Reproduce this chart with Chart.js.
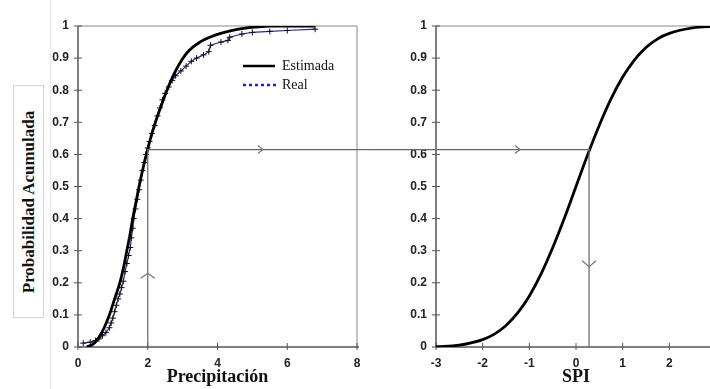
<!DOCTYPE html>
<html>
<head>
<meta charset="utf-8">
<script src="https://cdn.jsdelivr.net/npm/chart.js@4/dist/chart.umd.min.js"></script>
<style>
  html, body { margin: 0; padding: 0; background: #fff; overflow: hidden; }
  #wrap { position: relative; width: 710px; height: 389px; overflow: hidden; }
  #left { position: absolute; left: 0; top: 0; }
  #right { position: absolute; left: 370px; top: 0; }
  #sep { position: absolute; left: 50px; top: 0; width: 1px; height: 389px; background: #e6e6e6; }
  #ybox { position: absolute; left: 13px; top: 85px; width: 31px; height: 233px; border: 1px solid #d4d4d4; box-sizing: border-box; background: #fff; }
  #ybox span { position: absolute; left: 50%; top: 50%; transform: translate(-50%, -50%) rotate(-90deg); white-space: nowrap; font: bold 17px "Liberation Serif", serif; color: #111; }
</style>
</head>
<body>
<div id="wrap">
  <div id="sep"></div>
  <canvas id="left" width="370" height="389"></canvas>
  <canvas id="right" width="360" height="389"></canvas>
  <div id="ybox"><span>Probabilidad Acumulada</span></div>
</div>
<script>
// Estimated (gamma-like) CDF of precipitation
const estPrecip = [0.25, 0.45, 0.6, 0.75, 0.9, 1.05, 1.2, 1.31, 1.4, 1.49, 1.57, 1.66, 1.75, 1.85, 1.96, 2.08, 2.22, 2.38, 2.55, 2.75, 2.98, 3.2, 3.5, 3.85, 4.2, 4.6, 4.9, 5.5, 6.8];
const estProb = [0, 0.01, 0.03, 0.06, 0.1, 0.15, 0.2, 0.25, 0.3, 0.35, 0.4, 0.45, 0.5, 0.55, 0.6, 0.65, 0.7, 0.75, 0.8, 0.85, 0.895, 0.925, 0.95, 0.968, 0.98, 0.99, 0.995, 1, 1];

// Empirical ("Real") CDF
const realPrecip = [0.15, 0.35, 0.5, 0.6, 0.7, 0.8, 0.9, 0.95, 1.0, 1.05, 1.1, 1.15, 1.2, 1.25, 1.3, 1.35, 1.4, 1.45, 1.5, 1.53, 1.57, 1.6, 1.65, 1.7, 1.75, 1.8, 1.85, 1.9, 1.95, 2.0, 2.05, 2.12, 2.2, 2.28, 2.35, 2.42, 2.5, 2.6, 2.7, 2.8, 2.95, 3.1, 3.25, 3.4, 3.6, 3.75, 3.8, 4.1, 4.3, 4.35, 4.7, 5.0, 5.5, 6.0, 6.8];
const realProb = [0.012, 0.015, 0.02, 0.025, 0.035, 0.045, 0.06, 0.075, 0.09, 0.11, 0.13, 0.15, 0.165, 0.185, 0.205, 0.235, 0.26, 0.285, 0.31, 0.34, 0.37, 0.4, 0.43, 0.46, 0.49, 0.52, 0.55, 0.575, 0.6, 0.62, 0.64, 0.665, 0.69, 0.72, 0.745, 0.77, 0.79, 0.81, 0.83, 0.845, 0.86, 0.875, 0.89, 0.9, 0.91, 0.92, 0.94, 0.95, 0.955, 0.965, 0.975, 0.98, 0.983, 0.986, 0.99];

// Standard normal CDF
const spiVals = [-3, -2.5, -2, -1.75, -1.5, -1.25, -1, -0.75, -0.5, -0.25, 0, 0.25, 0.5, 0.75, 1, 1.25, 1.5, 1.75, 2, 2.5, 3];
const spiProb = [0.001, 0.006, 0.023, 0.04, 0.067, 0.106, 0.159, 0.227, 0.309, 0.401, 0.5, 0.599, 0.691, 0.773, 0.841, 0.894, 0.933, 0.96, 0.977, 0.994, 0.999];

// axes
const probTicks = [0, 0.1, 0.2, 0.3, 0.4, 0.5, 0.6, 0.7, 0.8, 0.9, 1];
const probLabels = ['0', '0.1', '0.2', '0.3', '0.4', '0.5', '0.6', '0.7', '0.8', '0.9', '1'];
const precipTicks = [0, 2, 4, 6, 8];
const precipLabels = ['0', '2', '4', '6', '8'];
const spiTicks = [-3, -2, -1, 0, 1, 2, 3];
const spiLabels = ['-3', '-2', '-1', '0', '1', '2', '3'];

// the worked example: precip 2 -> prob 0.615 -> SPI 0.28
const crossPrecip = 2;
const crossProb = 0.615;
const crossSpi = 0.28;
const arrowLeft = { x: 5.3, up: 0.23 };
const arrowRight = { x: -1.2, down: 0.25 };

const toPts = (xs, ys) => xs.map((x, i) => ({ x: x, y: ys[i] }));

const tickFont = { family: '"Liberation Sans", Arial, sans-serif', size: 12, weight: 'bold' };
const titleFont = { family: '"Liberation Serif", "Times New Roman", serif', size: 18, weight: 'bold' };
const guideColor = '#666';

function chevron(ctx, x, y, dir) {
  ctx.save();
  ctx.strokeStyle = '#777';
  ctx.lineWidth = 1.2;
  ctx.beginPath();
  if (dir === 'right') { ctx.moveTo(x - 5, y - 4); ctx.lineTo(x, y); ctx.lineTo(x - 5, y + 4); }
  if (dir === 'up') { ctx.moveTo(x - 7, y + 5); ctx.lineTo(x, y); ctx.lineTo(x + 7, y + 5); }
  if (dir === 'down') { ctx.moveTo(x - 7, y - 6); ctx.lineTo(x, y); ctx.lineTo(x + 7, y - 6); }
  ctx.stroke();
  ctx.restore();
}

function framePlugin(side) {
  return {
    id: 'frame' + side,
    beforeDatasetsDraw(chart) {
      const { ctx, chartArea: a, scales } = chart;
      ctx.save();
      ctx.strokeStyle = '#888';
      ctx.lineWidth = 1;
      ctx.beginPath();
      ctx.moveTo(a.left, a.top); ctx.lineTo(a.right, a.top); ctx.lineTo(a.right, a.bottom);
      ctx.stroke();
      ctx.strokeStyle = '#555';
      ctx.lineWidth = 1.5;
      ctx.beginPath();
      ctx.moveTo(a.left, a.top); ctx.lineTo(a.left, a.bottom); ctx.lineTo(a.right + 2, a.bottom);
      ctx.stroke();
      // tick marks crossing the axes
      ctx.lineWidth = 1;
      ctx.beginPath();
      scales.y.ticks.forEach(t => {
        const py = scales.y.getPixelForValue(t.value);
        ctx.moveTo(a.left - 4, py); ctx.lineTo(a.left + 4, py);
      });
      scales.x.ticks.forEach(t => {
        const px = scales.x.getPixelForValue(t.value);
        ctx.moveTo(px, a.bottom - 4); ctx.lineTo(px, a.bottom + 3);
      });
      ctx.stroke();
      // connector across the gap between the panels
      const cy = scales.y.getPixelForValue(crossProb);
      ctx.strokeStyle = guideColor;
      ctx.lineWidth = 1.2;
      ctx.beginPath();
      if (side === 'left') { ctx.moveTo(a.right, cy); ctx.lineTo(chart.width, cy); }
      else { ctx.moveTo(0, cy); ctx.lineTo(a.left, cy); }
      ctx.stroke();
      ctx.restore();
    },
    afterDatasetsDraw(chart) {
      const { ctx, scales } = chart;
      const cy = scales.y.getPixelForValue(crossProb);
      if (side === 'left') {
        chevron(ctx, scales.x.getPixelForValue(arrowLeft.x), cy, 'right');
        chevron(ctx, scales.x.getPixelForValue(crossPrecip), scales.y.getPixelForValue(arrowLeft.up), 'up');
        // legend
        ctx.save();
        ctx.lineWidth = 2.5;
        ctx.strokeStyle = '#000';
        ctx.beginPath(); ctx.moveTo(243, 66); ctx.lineTo(275, 66); ctx.stroke();
        ctx.strokeStyle = '#1a1aee';
        ctx.setLineDash([3, 3]);
        ctx.beginPath(); ctx.moveTo(243, 85); ctx.lineTo(276, 85); ctx.stroke();
        ctx.setLineDash([]);
        ctx.fillStyle = '#111';
        ctx.font = '14px "Liberation Serif", serif';
        ctx.textBaseline = 'middle';
        ctx.fillText('Estimada', 282, 66);
        ctx.fillText('Real', 282, 85);
        ctx.restore();
      } else {
        chevron(ctx, scales.x.getPixelForValue(arrowRight.x), cy, 'right');
        chevron(ctx, scales.x.getPixelForValue(crossSpi), scales.y.getPixelForValue(arrowRight.down), 'down');
      }
    }
  };
}

function yAxis(width) {
  return {
    type: 'linear', min: 0, max: 1,
    afterFit: s => { s.width = width; },
    afterBuildTicks: s => { s.ticks = probTicks.map(v => ({ value: v })); },
    grid: { display: false, drawTicks: false },
    border: { display: false },
    ticks: { font: tickFont, color: '#222', padding: 9, callback: (v, i) => probLabels[i] }
  };
}

function xAxis(min, max, ticks, labels, title) {
  return {
    type: 'linear', min: min, max: max,
    afterFit: s => { s.height = 42; },
    afterBuildTicks: s => { s.ticks = ticks.map(v => ({ value: v })); },
    grid: { display: false, drawTicks: false },
    border: { display: false },
    ticks: { font: tickFont, color: '#222', padding: 9, maxRotation: 0, callback: (v, i) => labels[i] },
    title: { display: true, text: title, font: titleFont, color: '#111', padding: { top: 0, bottom: 1 } }
  };
}

const commonOpts = {
  responsive: false,
  animation: false,
  events: [],
  plugins: { legend: { display: false }, tooltip: { enabled: false } }
};

new Chart(document.getElementById('left'), {
  type: 'scatter',
  data: {
    datasets: [
      {
        label: 'guide',
        data: [{ x: crossPrecip, y: 0 }, { x: crossPrecip, y: crossProb }, { x: 8, y: crossProb }],
        showLine: true, borderColor: guideColor, borderWidth: 1.2, pointRadius: 0
      },
      {
        label: 'Estimada',
        data: toPts(estPrecip, estProb),
        showLine: true, borderColor: '#000', borderWidth: 2.8, pointRadius: 0,
        cubicInterpolationMode: 'monotone'
      },
      {
        label: 'Real',
        data: toPts(realPrecip, realProb),
        showLine: true, borderColor: '#2a2a90', borderWidth: 1.2,
        pointStyle: 'cross', pointRadius: 3, pointBorderColor: '#111', pointBorderWidth: 1
      }
    ]
  },
  options: Object.assign({}, commonOpts, {
    layout: { padding: { top: 26, right: 13, left: 0, bottom: 0 } },
    scales: {
      x: xAxis(0, 8, precipTicks, precipLabels, 'Precipitación'),
      y: yAxis(78)
    }
  }),
  plugins: [framePlugin('left')]
});

new Chart(document.getElementById('right'), {
  type: 'scatter',
  data: {
    datasets: [
      {
        label: 'guide',
        data: [{ x: -3, y: crossProb }, { x: crossSpi, y: crossProb }, { x: crossSpi, y: 0 }],
        showLine: true, borderColor: guideColor, borderWidth: 1.2, pointRadius: 0
      },
      {
        label: 'SPI',
        data: toPts(spiVals, spiProb),
        showLine: true, borderColor: '#000', borderWidth: 2.8, pointRadius: 0,
        cubicInterpolationMode: 'monotone'
      }
    ]
  },
  options: Object.assign({}, commonOpts, {
    layout: { padding: { top: 26, right: 14, left: 0, bottom: 0 } },
    scales: {
      x: xAxis(-3, 3, spiTicks, spiLabels, 'SPI'),
      y: yAxis(66)
    }
  }),
  plugins: [framePlugin('right')]
});
</script>
</body>
</html>
